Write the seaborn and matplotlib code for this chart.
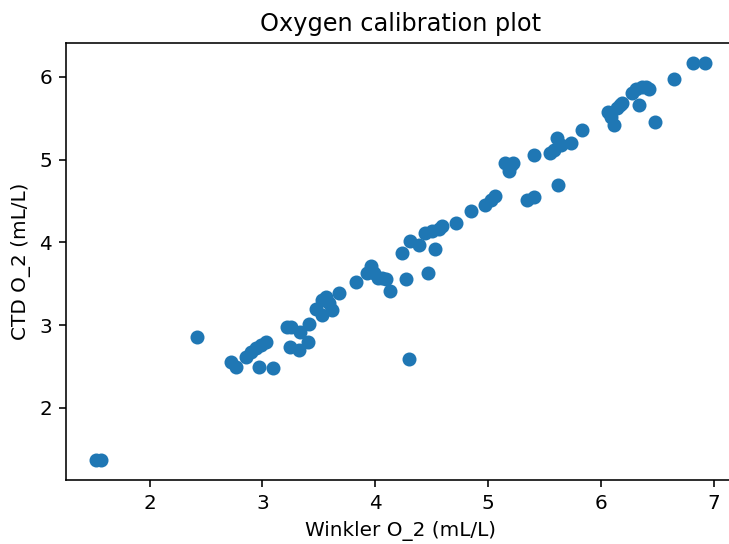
import matplotlib
matplotlib.use("Agg")
import matplotlib.pyplot as plt
import seaborn as sns
import pandas as pd

winkler_o2 = [1.53, 1.57, 2.42,
              2.72, 2.77, 2.85, 2.90, 2.94, 2.99, 3.03, 2.97, 3.09,
              3.22, 3.25, 3.24, 3.32, 3.40, 3.33, 3.41,
              3.47, 3.53, 3.56, 3.62, 3.59, 3.53, 3.68, 3.83,
              3.96, 3.99, 4.02, 4.06, 4.09, 3.93, 4.13, 4.27, 4.47, 4.30,
              4.24, 4.31, 4.39, 4.53, 4.44, 4.50, 4.56, 4.59, 4.71, 4.85,
              4.97, 5.02, 5.06, 5.15, 5.20, 5.18, 5.22, 5.40, 5.34, 5.40,
              5.62, 5.55, 5.58, 5.61, 5.64, 5.73, 5.83,
              6.06, 6.09, 6.11, 6.14, 6.17, 6.18,
              6.27, 6.31, 6.36, 6.40, 6.42, 6.33, 6.48, 6.64, 6.81, 6.92]
ctd_o2 = [1.37, 1.37, 2.86,
          2.55, 2.49, 2.62, 2.68, 2.72, 2.76, 2.80, 2.50, 2.48,
          2.98, 2.98, 2.74, 2.70, 2.80, 2.92, 3.02,
          3.20, 3.31, 3.34, 3.18, 3.27, 3.12, 3.39, 3.52,
          3.71, 3.63, 3.57, 3.57, 3.56, 3.63, 3.41, 3.56, 3.63, 2.59,
          3.87, 4.02, 3.97, 3.92, 4.12, 4.14, 4.16, 4.20, 4.24, 4.38,
          4.45, 4.51, 4.56, 4.96, 4.94, 4.86, 4.96, 5.06, 4.51, 4.55,
          4.69, 5.08, 5.12, 5.26, 5.18, 5.20, 5.36,
          5.58, 5.52, 5.42, 5.62, 5.66, 5.68,
          5.80, 5.86, 5.88, 5.88, 5.85, 5.66, 5.45, 5.97, 6.17, 6.17]

df = pd.DataFrame({"winkler": winkler_o2, "ctd": ctd_o2})

fig = plt.figure(figsize=(729 / 144, 544 / 144), dpi=144)
ax = fig.add_axes([66 / 729, 64 / 544, 669.6 / 729, 437 / 544])
sns.scatterplot(data=df, x="winkler", y="ctd", ax=ax, s=36,
                color="#1f77b4", edgecolor="#1f77b4", linewidth=1)
ax.set_title("Oxygen calibration plot")
ax.set_xlabel("Winkler O_2 (mL/L)")
ax.set_ylabel("CTD O_2 (mL/L)")
fig.savefig("out.png", dpi=144)
